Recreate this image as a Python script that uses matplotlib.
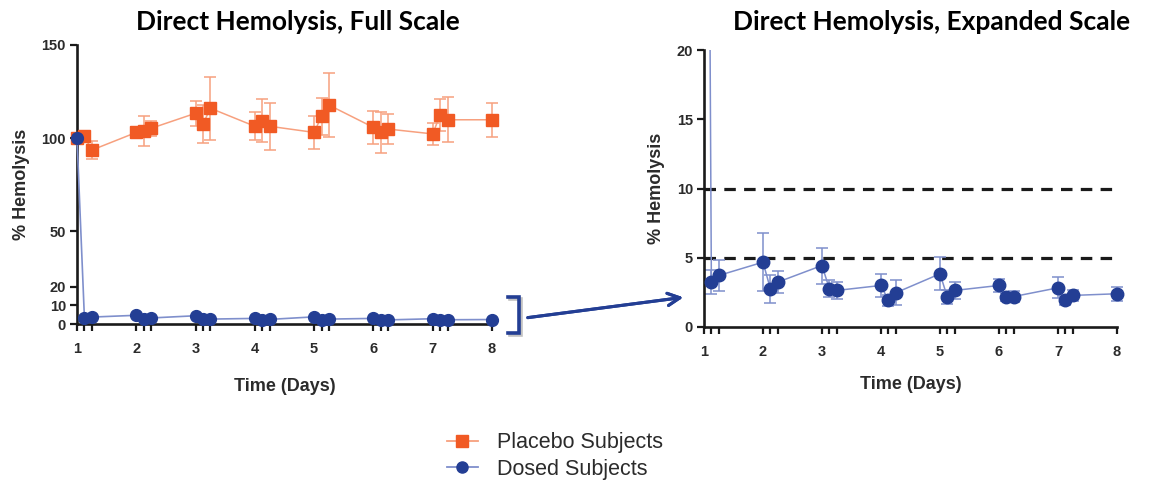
import numpy as np
import matplotlib
matplotlib.use("Agg")
import matplotlib.pyplot as plt
from matplotlib.lines import Line2D

# %% data
times = [1, 1.125, 1.25, 2, 2.125, 2.25, 3, 3.125, 3.25, 4, 4.125, 4.25,
         5, 5.125, 5.25, 6, 6.125, 6.25, 7, 7.125, 7.25, 8]

placebo_mean = [100, 100.9, 93.5, 103.0, 103.9, 105.2, 113.3, 107.5, 116.0,
                106.3, 109.3, 106.3, 103.0, 111.7, 117.7, 105.7, 103.0, 104.8,
                102.2, 112.4, 109.8, 109.8]
placebo_err = [0, 2, 4.8, 3, 8, 4, 6.7, 10, 17, 7.5, 11.7, 12.5,
               9, 10, 17, 9, 11, 8, 6, 8.6, 12, 9]

dosed_mean = [100, 3.24, 3.72, 4.68, 2.76, 3.24, 4.44, 2.76, 2.64, 3.0, 1.92,
              2.47, 3.84, 2.16, 2.64, 3.0, 2.16, 2.2, 2.83, 1.92, 2.28, 2.4]
dosed_err = [0, 0.85, 1.1, 2.1, 1.0, 0.8, 1.3, 0.6, 0.6, 0.8, 0.4, 0.9,
             1.2, 0.5, 0.6, 0.5, 0.3, 0.4, 0.75, 0.35, 0.4, 0.5]

day_ticks = [1, 2, 3, 4, 5, 6, 7, 8]
full_yticks = [0, 10, 20, 50, 100, 150]
exp_yticks = [0, 5, 10, 15, 20]
limit_lines = [5, 10]

# %% colours / fonts
orange = '#F15A24'
orange_lt = '#F7A07E'
blue = '#233E94'
blue_lt = '#7F8FCC'
txt = '#2b2b2b'
tick_font = 'Liberation Sans'

t = np.array(times)
pm, pe = np.array(placebo_mean), np.array(placebo_err)
dm, de = np.array(dosed_mean), np.array(dosed_err)

W, H = 1150, 482
fig = plt.figure(figsize=(W / 100, H / 100), dpi=100)
ax1 = fig.add_axes([77 / W, 1 - 324 / H, 415 / W, 279 / H])
ax2 = fig.add_axes([704 / W, 1 - 327 / H, 413 / W, 277 / H])


def style_axes(ax, ylim, yticks):
    for s in ['top', 'right']:
        ax.spines[s].set_visible(False)
    for s in ['left', 'bottom']:
        ax.spines[s].set_linewidth(1.9)
        ax.spines[s].set_color('#1a1a1a')
    ax.set_xlim(1, 8)
    ax.set_ylim(*ylim)
    ax.set_yticks(yticks)
    ax.set_xticks(day_ticks)
    ax.set_xticks([x for x in times if x not in day_ticks], minor=True)
    ax.tick_params(which='both', direction='out', length=5, width=1.6,
                   color='#1a1a1a')
    ax.tick_params(axis='x', pad=8)
    ax.tick_params(axis='y', pad=3)
    for lab in ax.get_xticklabels() + ax.get_yticklabels():
        lab.set_fontfamily(tick_font)
        lab.set_fontweight('bold')
        lab.set_fontsize(10.5)
        lab.set_color(txt)
    ax.set_xlabel('Time (Days)', fontsize=13, fontweight='bold',
                  family=tick_font, color=txt, labelpad=12)
    ax.set_ylabel('% Hemolysis', fontsize=13, fontweight='bold',
                  family=tick_font, color=txt, labelpad=8)


# %% left panel: full scale
ax1.plot(t, pm, '-', color=orange_lt, lw=1.1, zorder=2, clip_on=False)
ax1.errorbar(t, pm, yerr=pe, fmt='none', ecolor=orange_lt, elinewidth=1.1,
             capsize=4, capthick=1.1, zorder=2, clip_on=False)
ax1.plot(t, pm, 's', color=orange, ms=9, zorder=3, clip_on=False)
ax1.plot(t, dm, '-', color=blue_lt, lw=1.2, zorder=4, clip_on=False)
ax1.plot(t, dm, 'o', color=blue, ms=8.5, zorder=5, clip_on=False)
style_axes(ax1, (0, 150), full_yticks)
ax1.xaxis.labelpad = 16

# %% right panel: expanded scale
for y in limit_lines:
    ax2.axhline(y, color='#1a1a1a', lw=2.3, ls=(0, (3.6, 2.6)), zorder=1)
ax2.plot(t, dm, '-', color=blue_lt, lw=1.1, zorder=2)
vis = dm <= 20
ax2.errorbar(t[vis], dm[vis], yerr=de[vis], fmt='none', ecolor=blue_lt,
             elinewidth=1.1, capsize=4, capthick=1.1, zorder=2, clip_on=False)
ax2.plot(t[vis], dm[vis], 'o', color=blue, ms=9, zorder=3, clip_on=False)
style_axes(ax2, (0, 20), exp_yticks)

# %% titles
fig.text(298 / W, 1 - 22 / H, 'Direct Hemolysis, Full Scale', ha='center',
         va='center', fontsize=19, fontweight='bold', family='Lato')
fig.text(932 / W, 1 - 22 / H, 'Direct Hemolysis, Expanded Scale',
         ha='center', va='center', fontsize=19, fontweight='bold',
         family='Lato')

# %% bracket and arrow linking the panels
bx = np.array([508, 519, 519, 508]) / W
by = 1 - np.array([297, 297, 333, 333]) / H
fig.add_artist(Line2D(bx + 2 / W, by - 2 / H, color='#9a9a9a', lw=2.6,
                      alpha=0.6, solid_joinstyle='miter'))
fig.add_artist(Line2D(bx, by, color=blue, lw=2.6, solid_joinstyle='miter'))
fig.add_artist(plt.annotate('', xy=(686 / W, 1 - 297 / H),
                            xytext=(525 / W, 1 - 318 / H),
                            xycoords='figure fraction',
                            arrowprops=dict(arrowstyle='->', color=blue,
                                            lw=2.2, mutation_scale=22)))

# %% legend
handles = [Line2D([], [], color=orange_lt, lw=1.3, marker='s', ms=8,
                  mfc=orange, mec=orange),
           Line2D([], [], color=blue_lt, lw=1.3, marker='o', ms=8,
                  mfc=blue, mec=blue)]
leg = fig.legend(handles, ['Placebo Subjects', 'Dosed Subjects'],
                 loc='center left', bbox_to_anchor=(428 / W, 1 - 456 / H),
                 frameon=False, handlelength=1.4, handletextpad=0.9,
                 labelspacing=0.25, prop={'family': tick_font, 'size': 15.5})
for tx in leg.get_texts():
    tx.set_color(txt)

fig.savefig('out.png', dpi=100)
